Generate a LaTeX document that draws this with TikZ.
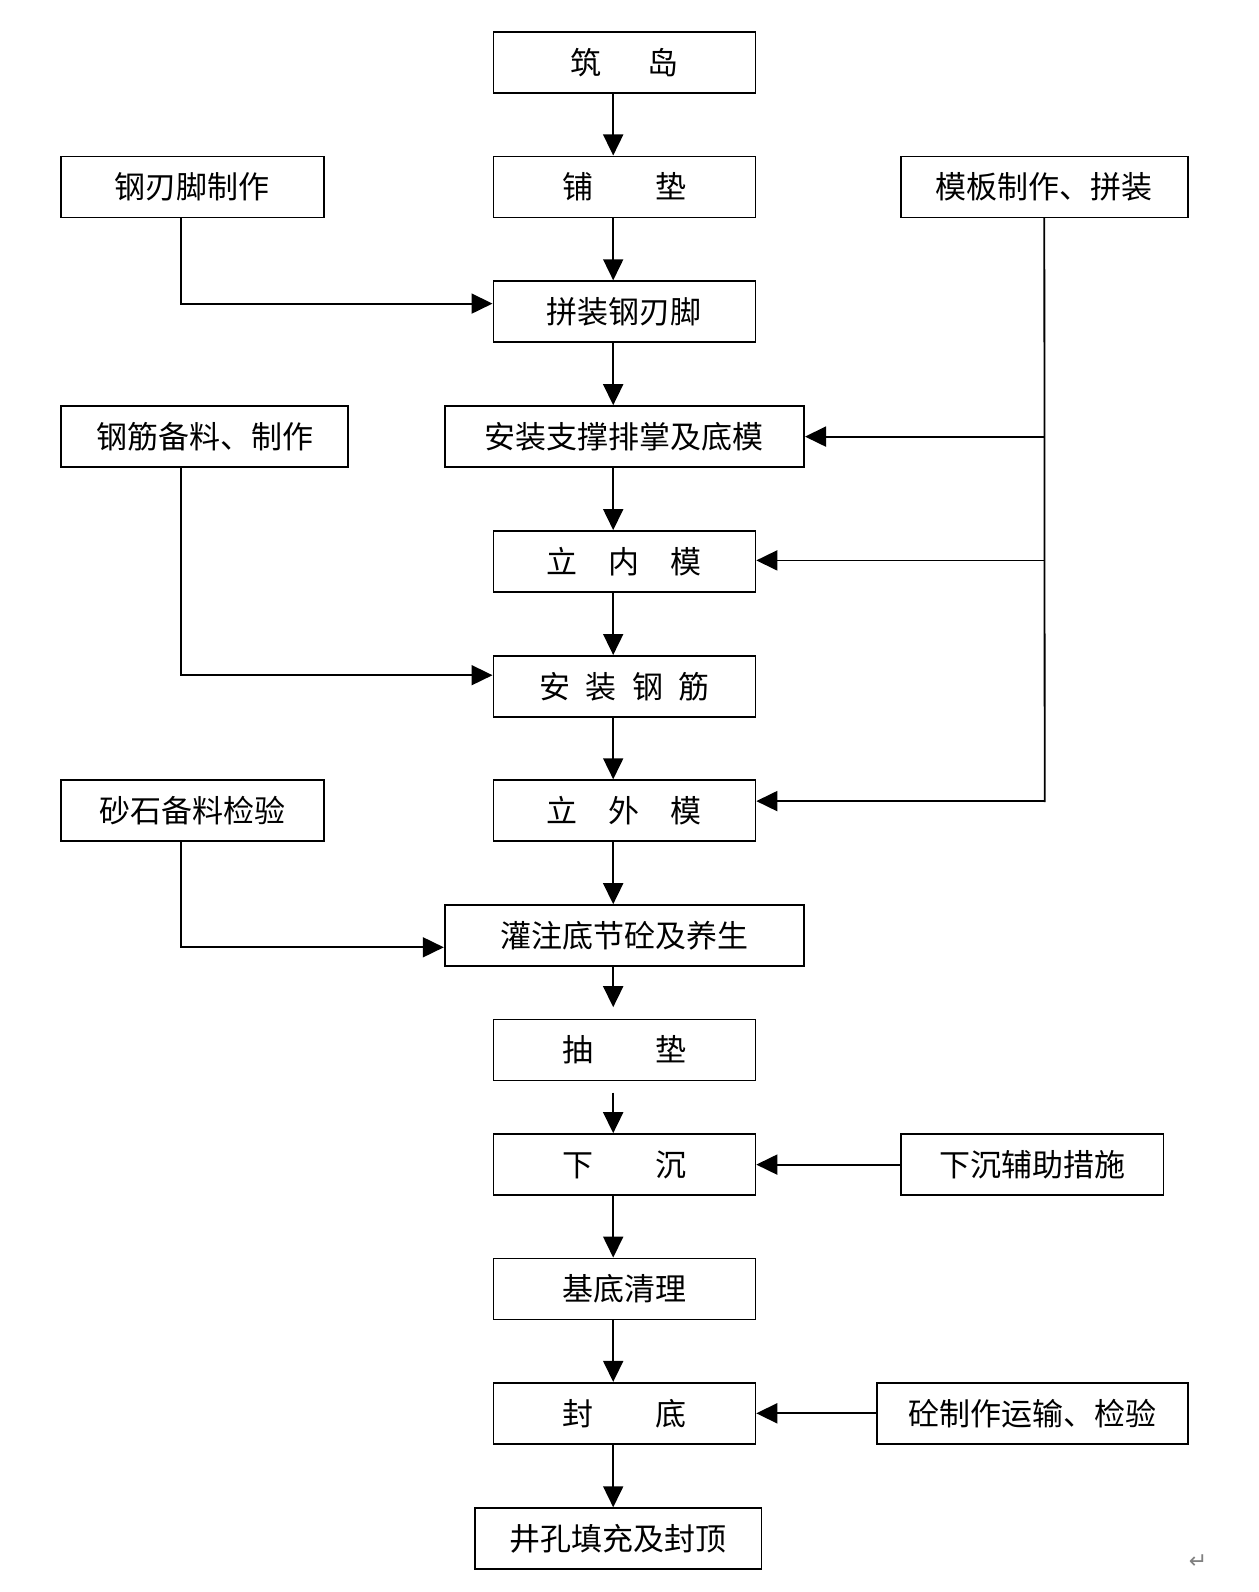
\documentclass[tikz,border=0pt]{standalone}
\usepackage{fontspec}
\newfontfamily\cjk{Noto Sans CJK SC}
\newfontfamily\dejavu{DejaVu Sans}
\usetikzlibrary{arrows.meta}
\begin{document}
\begin{tikzpicture}[x=1pt,y=-1pt,
  box/.style={draw,line width=1.8pt,rectangle,minimum height=61pt,inner sep=0pt,
    font=\cjk\fontsize{31}{31}\selectfont},
  arr/.style={line width=1.8pt,-{Triangle[length=21pt,width=20pt]}},
  ln/.style={line width=1.8pt,line cap=rect}]
\useasboundingbox (0,0) rectangle (1258,1592);
% main column
\node[box,minimum width=262pt] (a1) at (624.4,62.5) {筑\hspace{1.5em}岛};
\node[box,minimum width=262pt] (a2) at (624.4,186.9) {铺\hspace{2em}垫};
\node[box,minimum width=262pt] (a3) at (624.4,311.7) {拼装钢刃脚};
\node[box,minimum width=359.4pt] (a4) at (624.4,436.6) {安装支撑排掌及底模};
\node[box,minimum width=262pt] (a5) at (624.4,561.5) {立\hspace{1em}内\hspace{1em}模};
\node[box,minimum width=262pt] (a6) at (624.4,686.4) {安\hspace{0.5em}装\hspace{0.5em}钢\hspace{0.5em}筋};
\node[box,minimum width=262pt] (a7) at (624.4,810.7) {立\hspace{1em}外\hspace{1em}模};
\node[box,minimum width=359.4pt] (a8) at (624.4,935.6) {灌注底节砼及养生};
\node[box,minimum width=262pt] (a9) at (624.4,1049.9) {抽\hspace{2em}垫};
\node[box,minimum width=262pt] (a10) at (624.4,1164.6) {下\hspace{2em}沉};
\node[box,minimum width=262pt] (a11) at (624.4,1289.0) {基底清理};
\node[box,minimum width=286.3pt] (a13) at (618.4,1538.7) {井孔填充及封顶};
\node[box,minimum width=262pt] (a12) at (624.4,1413.3) {封\hspace{2em}底};
% side boxes
\node[box,minimum width=263pt] (s1) at (192.4,186.9) {钢刃脚制作};
\node[box,minimum width=287.3pt] (s2) at (204.6,436.6) {钢筋备料、制作};
\node[box,minimum width=263pt] (s3) at (192.4,810.7) {砂石备料检验};
\node[box,minimum width=287.3pt] (r1) at (1044.3,186.9) {模板制作、拼装};
\node[box,minimum width=262.9pt] (r2) at (1032.1,1164.6) {下沉辅助措施};
\node[box,minimum width=310.7pt] (r3) at (1032.6,1413.3) {砼制作运输、检验};
% vertical arrows
\foreach \u/\v in {a1/a2,a2/a3,a3/a4,a4/a5,a5/a6,a6/a7,a7/a8,a10/a11,a11/a12,a12/a13}
  \draw[arr] (613.2,0 |- \u.south) -- (613.2,0 |- \v.north);
\coordinate (g1) at (613.2,1007.2);
\coordinate (g2) at (613.2,1092.5);
\draw[arr] (613.2,0 |- a8.south) -- (g1);
\draw[arr] (g2) -- (613.2,0 |- a10.north);
% left feeders
\draw[ln] (180.7,0 |- s1.south) -- (180.7,303.6);
\draw[arr] (180.7,303.6) -- (a3.west |- 0,303.6);
\draw[ln] (180.7,0 |- s2.south) -- (180.7,675.2);
\draw[arr] (180.7,675.2) -- (a6.west |- 0,675.2);
\draw[ln] (180.7,0 |- s3.south) -- (180.7,947.3);
\draw[arr] (180.7,947.3) -- (a8.west |- 0,947.3);
% right feeders
\draw[ln] (r1.south) -- (1044.7,801.1);
\draw[arr] (1044.7,436.6) -- (a4.east |- 0,436.6);
\draw[arr] (1044.7,560.4) -- (a5.east |- 0,560.4);
\draw[arr] (1044.7,801.1) -- (a7.east |- 0,801.1);
\draw[arr] (r2.west) -- (a10.east);
\draw[arr] (r3.west) -- (a12.east);
% paragraph mark
\node[text=gray,font=\dejavu\fontsize{22}{22}\selectfont] (pm) at (1198,1562) {↵};
\end{tikzpicture}
\end{document}
